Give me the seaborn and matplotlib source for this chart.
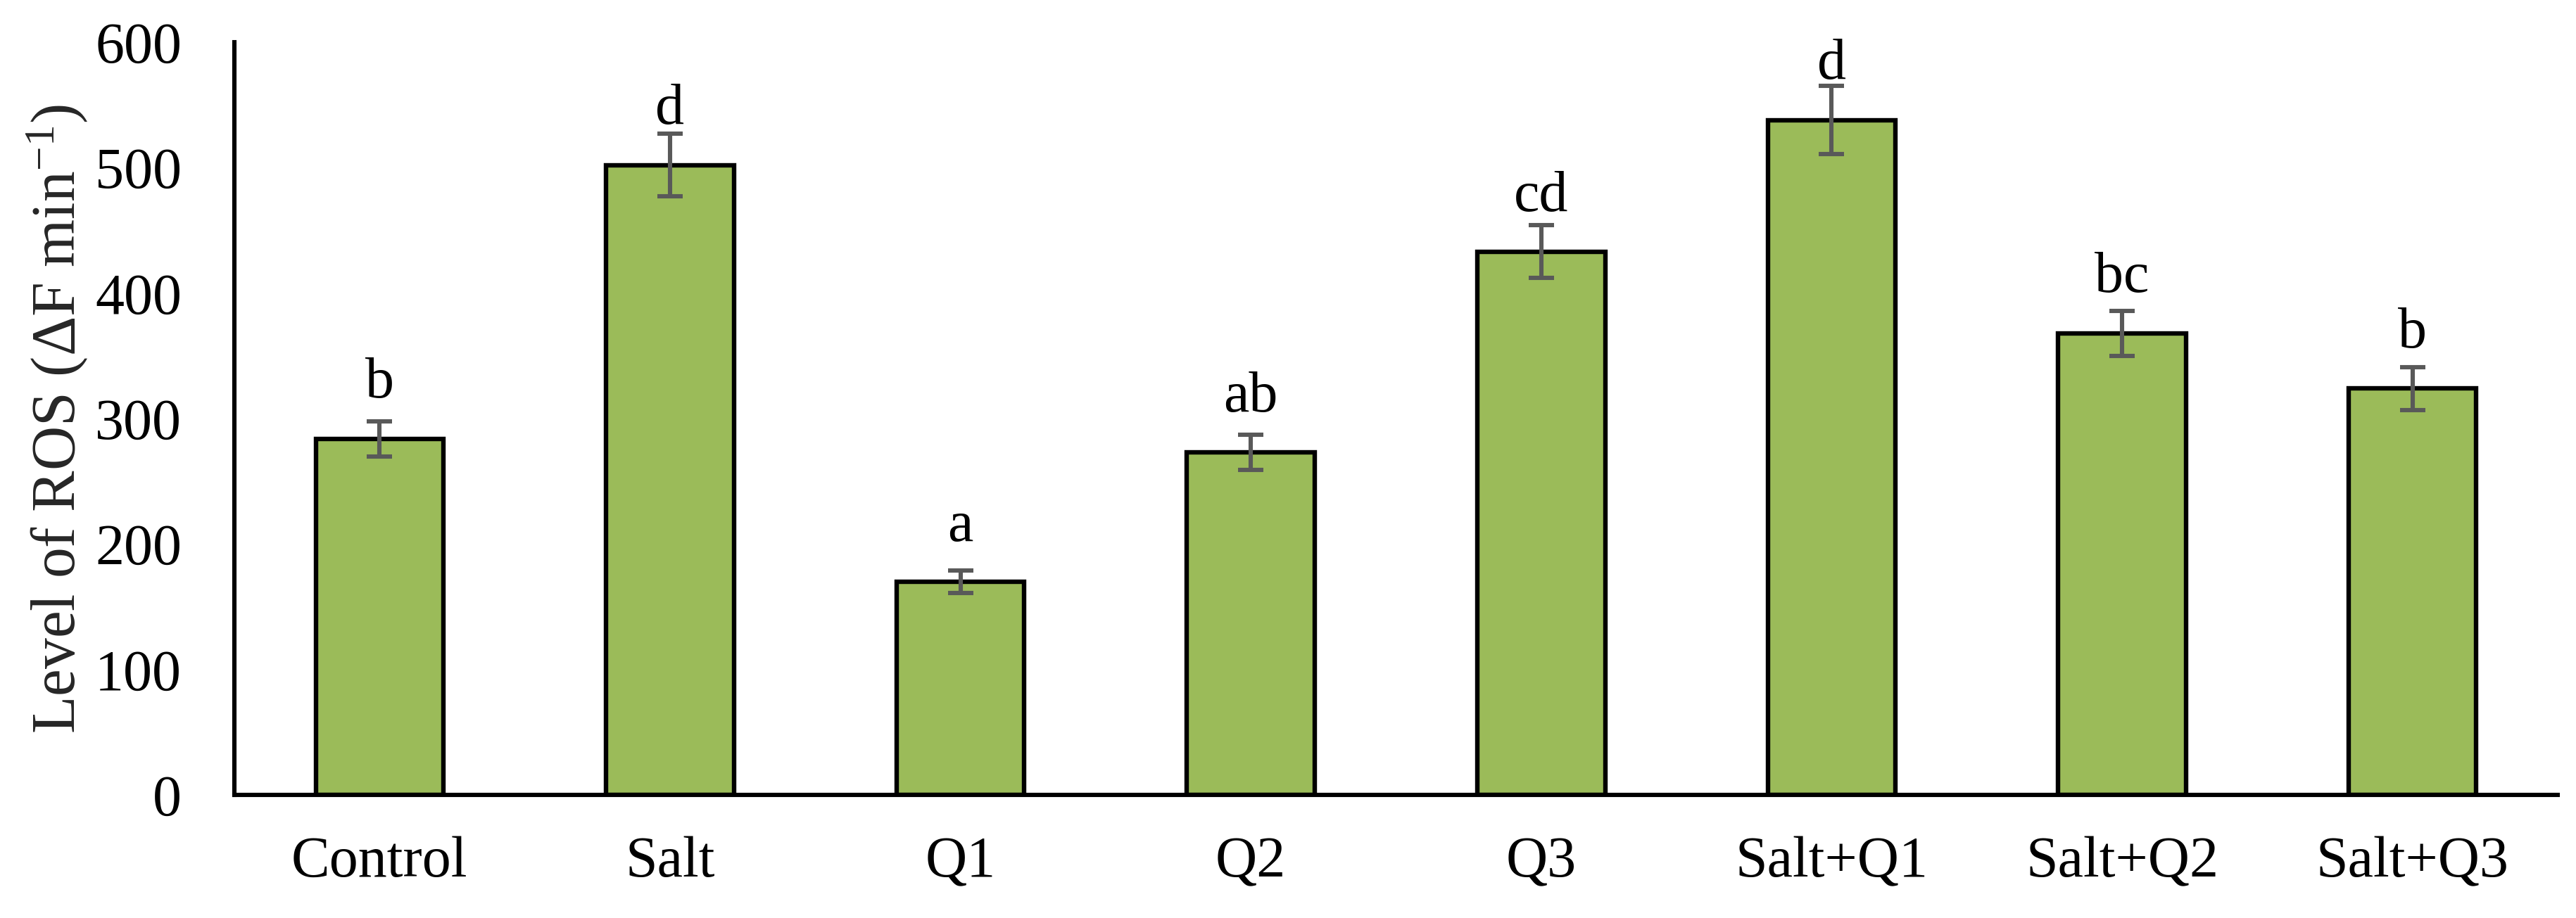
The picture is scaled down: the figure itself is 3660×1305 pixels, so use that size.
import matplotlib
matplotlib.use("Agg")
import matplotlib.pyplot as plt
import seaborn as sns
import pandas as pd

categories = ["Control", "Salt", "Q1", "Q2", "Q3", "Salt+Q1", "Salt+Q2", "Salt+Q3"]
means = [284, 502, 170, 273, 433, 538, 368, 324]
errors = [14, 25, 9, 14, 21, 27, 18, 17]
letters = ["b", "d", "a", "ab", "cd", "d", "bc", "b"]

sns.set_theme(style="white")
plt.rcParams["font.family"] = ["Liberation Serif", "DejaVu Serif"]
plt.rcParams["mathtext.fontset"] = "custom"
plt.rcParams["mathtext.rm"] = "Liberation Serif"
plt.rcParams["mathtext.it"] = "Liberation Serif:italic"

df = pd.DataFrame({"Treatment": categories, "ROS": means})

fig = plt.figure(figsize=(18.3, 6.525), dpi=200)
ax = fig.add_axes([0.091, 0.1341, 0.9929 - 0.091, 0.954 - 0.1341])

sns.barplot(data=df, x="Treatment", y="ROS", color="#9BBB59", saturation=1,
            width=0.44, edgecolor="black", linewidth=2.3, errorbar=None, ax=ax)

for p, m, e, lab in zip(ax.patches, means, errors, letters):
    xc = p.get_x() + p.get_width() / 2
    ax.errorbar(xc, m, yerr=e, fmt="none", ecolor="#595959", elinewidth=2.2,
                capsize=6.6, capthick=2.2, zorder=5)
    ax.annotate(lab, (xc, m), xytext=(0, 21), textcoords="offset points",
                ha="center", va="baseline", fontsize=29.5, color="black")

ax.set_ylim(0, 600)
ax.set_xlim(-0.5, len(categories) - 0.5)
ax.set_yticks([0, 100, 200, 300, 400, 500, 600])
ax.set_xlabel("")
ax.set_ylabel("Level of ROS (ΔF min$^{-1}$)", fontsize=31.5)
ax.yaxis.set_label_coords(-0.062, 0.5)

ax.tick_params(axis="x", length=0, pad=21, labelsize=29.5, colors="black")
ax.tick_params(axis="y", length=0, pad=27, labelsize=29.5, colors="black")

for s in ["top", "right"]:
    ax.spines[s].set_visible(False)
for s in ["left", "bottom"]:
    ax.spines[s].set_color("black")
    ax.spines[s].set_linewidth(2.2)

fig.savefig("out.png", dpi=200, facecolor="white")
